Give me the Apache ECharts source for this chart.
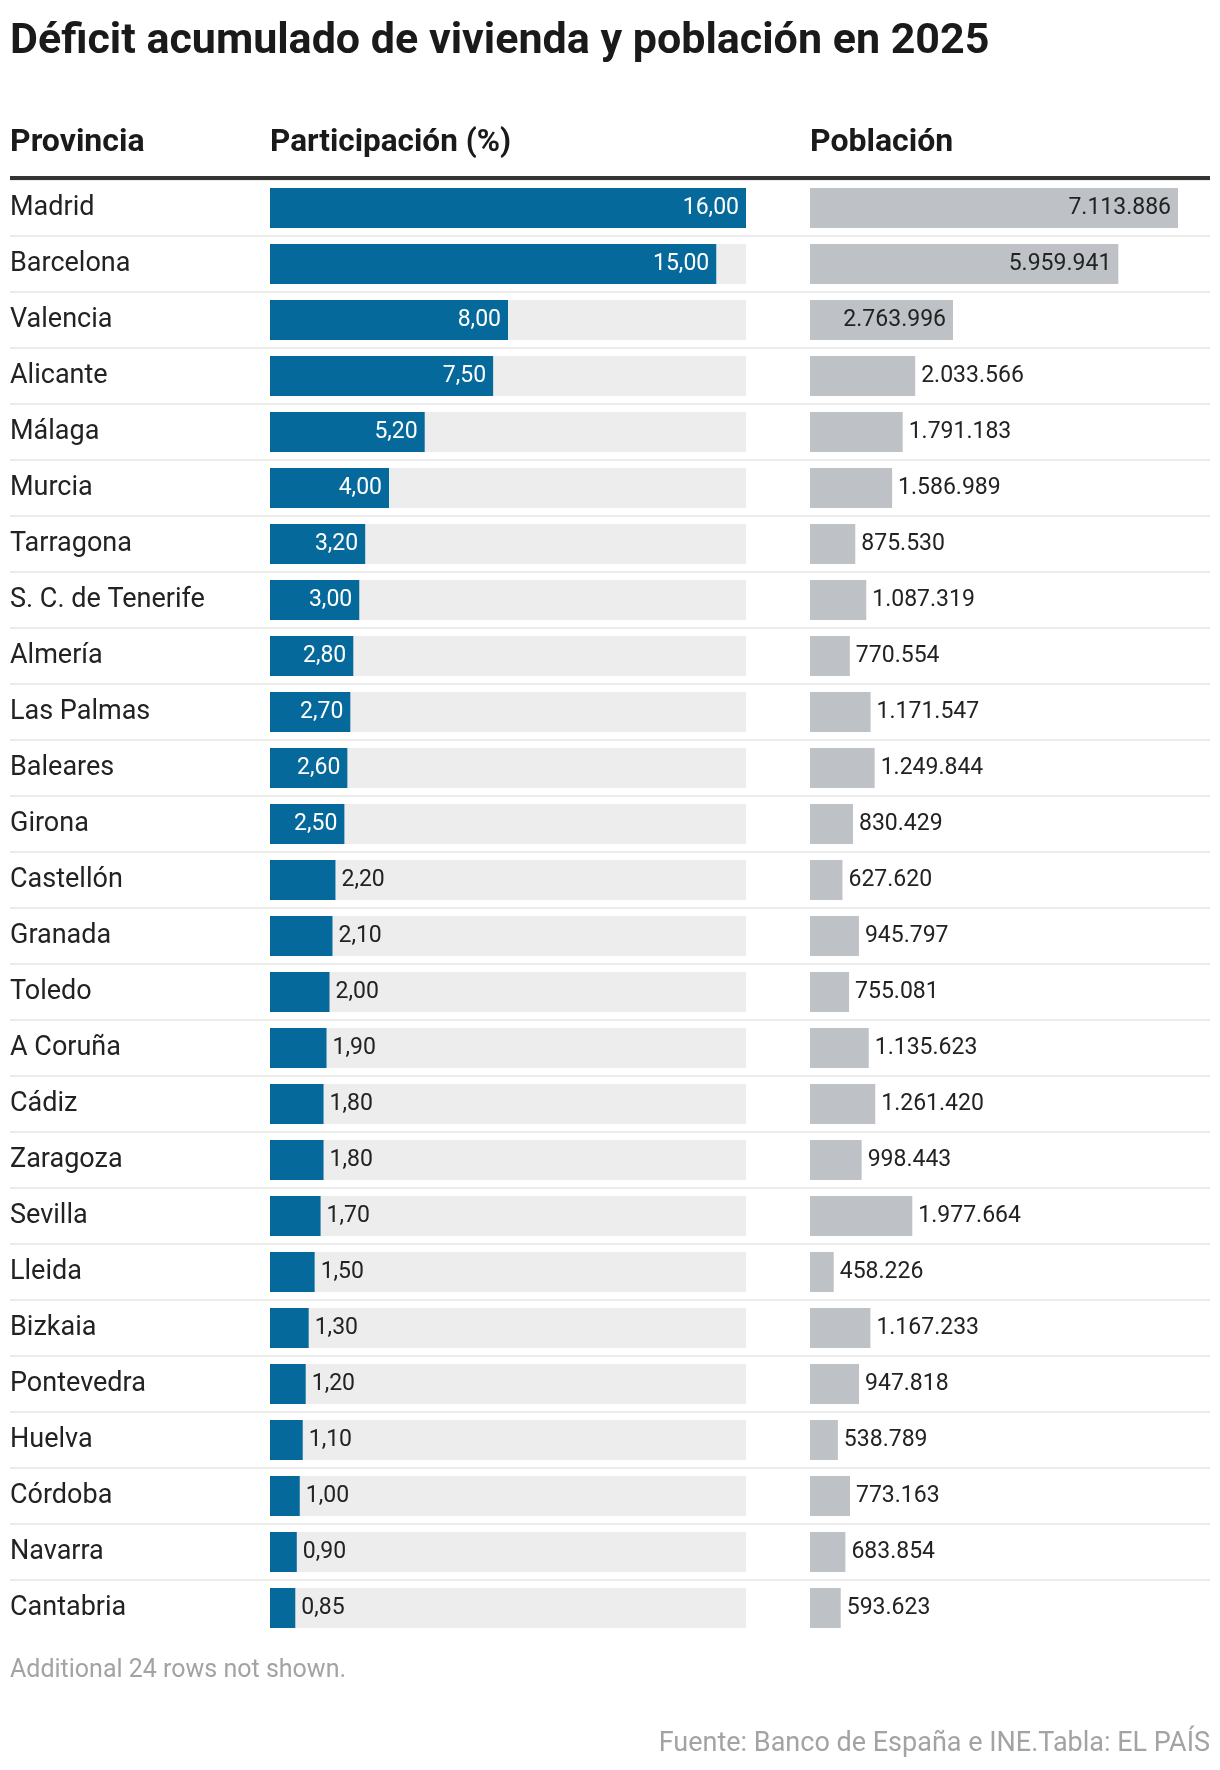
<!DOCTYPE html>
<html>
<head>
<meta charset="utf-8">
<script src="https://cdn.jsdelivr.net/npm/echarts@6/dist/echarts.min.js"></script>
<style>
html,body{margin:0;padding:0;background:#fff;}
#chart{width:1220px;height:1770px;}
</style>
</head>
<body>
<div id="chart"></div>
<script>
const titleText = 'Déficit acumulado de vivienda y población en 2025';
const headers = ['Provincia', 'Participación (%)', 'Población'];
const footnote = 'Additional 24 rows not shown.';
const sourceText = 'Fuente: Banco de España e INE.Tabla: EL PAÍS';

const provinces = ['Madrid','Barcelona','Valencia','Alicante','Málaga','Murcia','Tarragona','S. C. de Tenerife','Almería','Las Palmas','Baleares','Girona','Castellón','Granada','Toledo','A Coruña','Cádiz','Zaragoza','Sevilla','Lleida','Bizkaia','Pontevedra','Huelva','Córdoba','Navarra','Cantabria'];
const participacion = [16.00,15.00,8.00,7.50,5.20,4.00,3.20,3.00,2.80,2.70,2.60,2.50,2.20,2.10,2.00,1.90,1.80,1.80,1.70,1.50,1.30,1.20,1.10,1.00,0.90,0.85];
const poblacion = [7113886,5959941,2763996,2033566,1791183,1586989,875530,1087319,770554,1171547,1249844,830429,627620,945797,755081,1135623,1261420,998443,1977664,458226,1167233,947818,538789,773163,683854,593623];

const FONT = 'Roboto';
const fmtPct = v => v.toFixed(2).replace('.', ',');
const fmtPop = v => String(v).replace(/\B(?=(\d{3})+(?!\d))/g, '.');

const chart = echarts.init(document.getElementById('chart'), null, {renderer: 'canvas'});

const pctData = participacion.map(v => ({
  value: v,
  label: v >= 2.4
    ? {position: 'insideRight', distance: 7, color: '#ffffff'}
    : {position: 'right', distance: 6, color: '#222222'}
}));
const popData = poblacion.map(v => ({
  value: v,
  label: v >= 2500000
    ? {position: 'insideRight', distance: 7, color: '#222222'}
    : {position: 'right', distance: 6, color: '#222222'}
}));

const rowTop = 180, rowH = 56;

chart.setOption({
  animation: false,
  backgroundColor: '#ffffff',
  title: [
    {text: titleText, left: 10, top: 21, padding: 0,
     textStyle: {fontFamily: FONT, fontWeight: 'bold', fontSize: 43, lineHeight: 43, color: '#1a1a1a'}},
    {text: headers[0], left: 10, top: 126, padding: 0,
     textStyle: {fontFamily: FONT, fontWeight: 'bold', fontSize: 32, lineHeight: 34, color: '#1a1a1a'}},
    {text: headers[1], left: 270, top: 126, padding: 0,
     textStyle: {fontFamily: FONT, fontWeight: 'bold', fontSize: 31.5, lineHeight: 34, color: '#1a1a1a'}},
    {text: headers[2], left: 810, top: 126, padding: 0,
     textStyle: {fontFamily: FONT, fontWeight: 'bold', fontSize: 32, lineHeight: 34, color: '#1a1a1a'}},
    {text: footnote, left: 10, top: 1657, padding: 0,
     textStyle: {fontFamily: FONT, fontWeight: 'normal', fontSize: 25, lineHeight: 28, color: '#a3a3a3'}},
    {text: sourceText, right: 10, top: 1729, padding: 0,
     textStyle: {fontFamily: FONT, fontWeight: 'normal', fontSize: 27, lineHeight: 30, color: '#a3a3a3'}}
  ],
  graphic: [
    {type: 'rect', z: 100, shape: {x: 10, y: 176, width: 1200, height: 4}, style: {fill: '#333333'}}
  ],
  grid: [
    {left: 270, width: 476, top: rowTop, height: rowH * provinces.length},
    {left: 810, width: 368, top: rowTop, height: rowH * provinces.length},
    {left: 10, width: 1200, top: rowTop, height: rowH * (provinces.length - 1)}
  ],
  xAxis: [
    {gridIndex: 0, type: 'value', min: 0, max: 16, show: false},
    {gridIndex: 1, type: 'value', min: 0, max: 7113886, show: false},
    {gridIndex: 2, type: 'value', min: 0, max: 1, show: false}
  ],
  yAxis: [
    {gridIndex: 0, type: 'category', inverse: true, data: provinces,
     axisLine: {show: false}, axisTick: {show: false}, splitLine: {show: false},
     axisLabel: {interval: 0, align: 'left', margin: 260, fontFamily: FONT, fontSize: 27, color: '#222222', padding: [0, 0, 8, 0]}},
    {gridIndex: 1, type: 'category', inverse: true, data: provinces,
     axisLine: {show: false}, axisTick: {show: false}, splitLine: {show: false}, axisLabel: {show: false}},
    {gridIndex: 2, type: 'value', inverse: true, min: 0, max: provinces.length - 1, interval: 1,
     axisLine: {show: false}, axisTick: {show: false}, axisLabel: {show: false},
     splitLine: {show: true, lineStyle: {color: '#ebebeb', width: 2}}}
  ],
  series: [
    {type: 'bar', xAxisIndex: 0, yAxisIndex: 0, barWidth: 40, data: pctData,
     showBackground: true, backgroundStyle: {color: '#ededed'},
     itemStyle: {color: '#06699b'},
     label: {show: true, fontFamily: FONT, fontSize: 23, formatter: p => fmtPct(p.value)}},
    {type: 'bar', xAxisIndex: 1, yAxisIndex: 1, barWidth: 40, data: popData,
     itemStyle: {color: '#bec2c6'},
     label: {show: true, fontFamily: FONT, fontSize: 23, formatter: p => fmtPop(p.value)}}
  ]
});
</script>
</body>
</html>
